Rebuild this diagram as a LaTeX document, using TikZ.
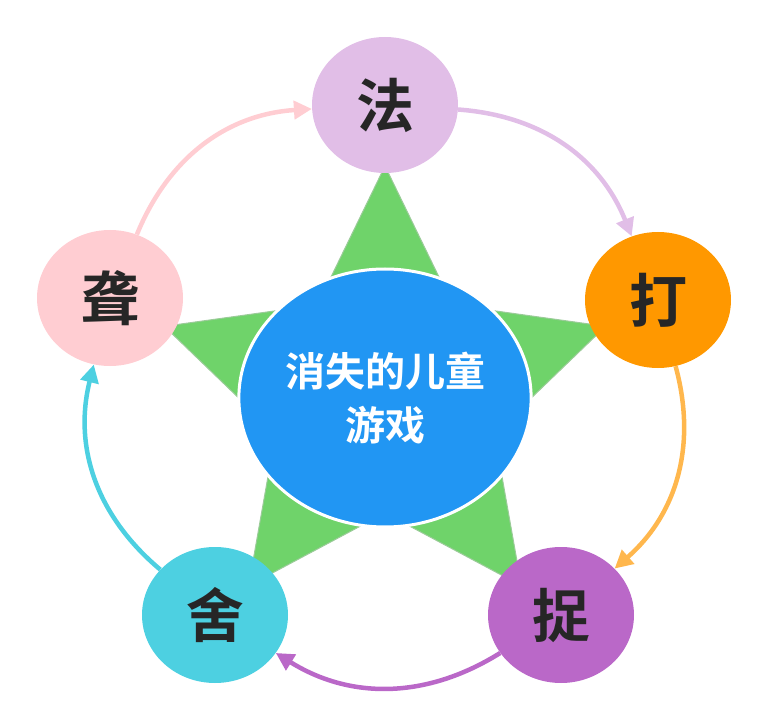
\documentclass[tikz,border=0pt]{standalone}
\usepackage{fontspec}
\newfontfamily\cjk{Noto Sans CJK SC Bold}
\usetikzlibrary{arrows.meta,shapes.geometric}
\definecolor{starg}{HTML}{6FD36A}
\definecolor{cblue}{HTML}{2196F3}
\definecolor{cfa}{HTML}{E1BEE7}
\definecolor{cda}{HTML}{FF9800}
\definecolor{czhuo}{HTML}{BA68C8}
\definecolor{cshe}{HTML}{4DD0E1}
\definecolor{clong}{HTML}{FFCDD2}
\definecolor{corl}{HTML}{FFB74D}
\tikzset{
  outer/.style={ellipse,minimum width=146pt,minimum height=136pt,inner sep=0pt,font=\cjk\fontsize{58}{58}\selectfont,text=black!85},
  conn/.style={line width=4.5pt,-{Triangle[length=18pt,width=18pt]},bend left=32},
}
\begin{document}
\begin{tikzpicture}[x=1pt,y=1pt]
\useasboundingbox (0,0) rectangle (769,-722);
\begin{scope}[shift={(385,-398)}]
\fill[starg,draw=starg!80!black!60,line width=1pt] (90:232) -- (126:115) -- (162:232) -- (198:115) -- (234:232) -- (270:115) -- (306:232) -- (342:115) -- (18:232) -- (54:115) -- cycle;
\end{scope}
\node[ellipse,fill=cblue,draw=white,line width=3pt,minimum width=274pt,minimum height=258pt,text=white,align=center,font=\cjk\fontsize{40}{54}\selectfont] (c) at (385,-398) {消失的儿童\\游戏};
\node[outer,fill=cfa] (fa) at (385,-105) {法};
\node[outer,fill=cda] (da) at (658,-300) {打};
\node[outer,fill=czhuo] (zh) at (561,-615) {捉};
\node[outer,fill=cshe] (sh) at (215,-615) {舍};
\node[outer,fill=clong] (lo) at (110,-298) {聋};
\draw[conn,cfa] (fa) to (da);
\draw[conn,corl] (da) to (zh);
\draw[conn,czhuo] (zh) to (sh);
\draw[conn,cshe] (sh) to (lo);
\draw[conn,clong] (lo) to (fa);
\end{tikzpicture}
\end{document}
